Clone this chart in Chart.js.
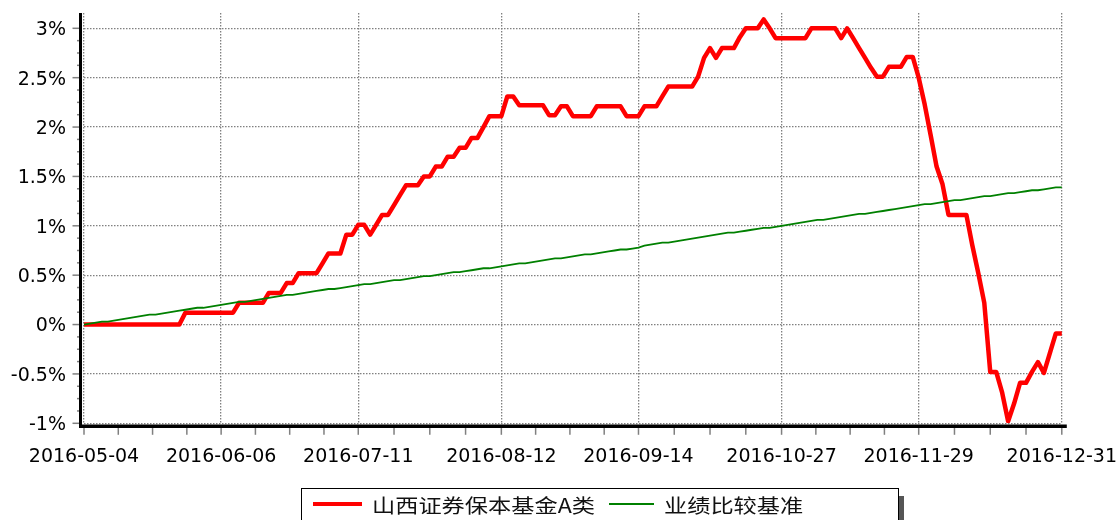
<!DOCTYPE html>
<html>
<head>
<meta charset="utf-8">
<script src="https://cdn.jsdelivr.net/npm/chart.js@4.4.0/dist/chart.umd.min.js"></script>
<style>
html,body{margin:0;padding:0;background:#fff;}
#wrap{position:relative;width:1117px;height:520px;overflow:hidden;background:#fff;}
#chartBox{position:absolute;left:0;top:0;width:1117px;height:520px;}
#legend{position:absolute;left:301px;top:488px;width:596px;height:60px;border:1.5px solid #000;box-shadow:5px 8px 0 #555;background:#fff;}
.sw{position:absolute;}
.lt{position:absolute;font-family:"Noto Sans CJK SC";font-size:19.5px;line-height:22px;color:#111;transform:scaleX(1.19);transform-origin:0 50%;white-space:nowrap;}
</style>
</head>
<body>
<div id="wrap">
  <div id="chartBox"><canvas id="c"></canvas></div>
  <div id="legend">
    <span class="sw" style="left:10.5px;top:12.5px;width:49px;height:4.5px;background:#ff0000;"></span>
    <span class="lt" id="l1" style="left:69.5px;top:4.5px;"></span>
    <span class="sw" style="left:306.5px;top:13.5px;width:45px;height:2px;background:#008000;"></span>
    <span class="lt" id="l2" style="left:361.5px;top:4.5px;"></span>
  </div>
</div>
<script>
// ---- data ----
const seriesNames = ['山西证券保本基金A类', '业绩比较基准'];
const tradeMonths = ['05','06','07','08','09','10','11','12'];
const tradeDays = [
  [4,5,6,9,10,11,12,13,16,17,18,19,20,23,24,25,26,27,30,31],
  [1,2,3,6,7,8,13,14,15,16,17,20,21,22,23,24,27,28,29,30],
  [1,4,5,6,7,8,11,12,13,14,15,18,19,20,21,22,25,26,27,28,29],
  [1,2,3,4,5,8,9,10,11,12,15,16,17,18,19,22,23,24,25,26,29,30,31],
  [1,2,5,6,7,8,9,12,13,14,19,20,21,22,23,26,27,28,29,30],
  [10,11,12,13,14,17,18,19,20,21,24,25,26,27,28,31],
  [1,2,3,4,7,8,9,10,11,14,15,16,17,18,21,22,23,24,25,28,29,30],
  [1,2,5,6,7,8,9,12,13,14,15,16,19,20,21,22,23,26,27,28,29,30,31]
];
const tickLabels = ['2016-05-04','2016-06-06','2016-07-11','2016-08-12','2016-09-14','2016-10-27','2016-11-29','2016-12-31'];
const yTickValues = [-1,-0.5,0,0.5,1,1.5,2,2.5,3];

const fundA = [
  0,0,0,0,0,0,0,0,0,0,0,0,0,0,0,0,0,
  0.12,0.12,0.12,0.12,0.12,0.12,0.12,0.12,0.12,
  0.22,0.22,0.22,0.22,0.22,
  0.32,0.32,0.32,
  0.42,0.42,
  0.52,0.52,0.52,0.52,
  0.62,
  0.72,0.72,0.72,
  0.91,0.91,1.01,1.01,0.91,1.01,1.11,1.11,1.21,1.31,
  1.41,1.41,1.41,
  1.5,1.5,1.6,1.6,1.7,1.7,1.79,1.79,1.89,1.89,
  2.0,
  2.11,2.11,2.11,
  2.31,2.31,
  2.22,2.22,2.22,2.22,2.22,
  2.12,2.12,
  2.21,2.21,
  2.11,2.11,2.11,2.11,
  2.21,2.21,2.21,2.21,2.21,
  2.11,2.11,2.11,
  2.21,2.21,2.21,
  2.31,
  2.41,2.41,2.41,2.41,2.41,
  2.51,2.7,2.8,2.7,
  2.8,2.8,2.8,
  2.91,
  3.0,3.0,3.0,
  3.09,3.0,
  2.9,2.9,2.9,2.9,2.9,2.9,
  3.0,3.0,3.0,3.0,3.0,
  2.9,3.0,2.9,2.8,2.7,2.6,
  2.51,2.51,
  2.61,2.61,2.61,
  2.71,2.71,
  2.5,2.23,1.92,1.6,1.42,
  1.11,1.11,1.11,1.11,
  0.8,0.52,0.22,
  -0.48,-0.48,-0.69,-0.98,-0.8,
  -0.59,-0.59,-0.48,-0.38,-0.49,-0.29,
  -0.09,-0.09
];
const benchmark = [
  0,0.01,0.02,0.03,0.03,0.04,0.05,0.06,0.07,0.08,0.09,0.10,0.10,0.11,0.12,0.13,0.14,0.15,0.16,0.17,0.17,0.18,0.19,0.20,
  0.21,0.22,0.23,0.23,0.24,0.25,0.26,0.27,0.28,0.29,0.30,0.30,0.31,0.32,0.33,0.34,0.35,0.36,0.36,0.37,0.38,0.39,0.40,
  0.41,0.41,0.42,0.43,0.44,0.45,0.45,0.46,0.47,0.48,0.49,0.49,0.50,0.51,0.52,0.53,0.53,0.54,0.55,0.56,0.57,0.57,0.58,0.59,
  0.60,0.61,0.62,0.62,0.63,0.64,0.65,0.66,0.67,0.67,0.68,0.69,0.70,0.71,0.71,0.72,0.73,0.74,0.75,0.76,0.76,0.77,0.78,
  0.80,0.81,0.82,0.83,0.83,0.84,0.85,0.86,0.87,0.88,0.89,0.90,0.91,0.92,0.93,0.93,0.94,0.95,0.96,0.97,0.98,0.98,0.99,1.00,
  1.01,1.02,1.03,1.04,1.05,1.06,1.06,1.07,1.08,1.09,1.10,1.11,1.12,1.12,1.13,1.14,1.15,1.16,1.17,1.18,1.19,1.20,1.21,
  1.22,1.22,1.23,1.24,1.25,1.26,1.26,1.27,1.28,1.29,1.30,1.30,1.31,1.32,1.33,1.33,1.34,1.35,1.36,1.36,1.37,1.38,1.39,1.39
];

// ---- build categories ----
const categories = [];
tradeMonths.forEach((m, k) => tradeDays[k].forEach(d => categories.push('2016-' + m + '-' + String(d).padStart(2, '0'))));
const majorIdx = tickLabels.map(l => categories.indexOf(l));

document.getElementById('l1').textContent = seriesNames[0];
document.getElementById('l2').textContent = seriesNames[1];

const axisDecor = {
  id: 'axisDecor',
  beforeDatasetsDraw(chart) {
    const {ctx, chartArea: a, scales: {x, y}} = chart;
    ctx.save();
    ctx.strokeStyle = '#808080';
    ctx.lineWidth = 1.5;
    const y0 = yTickValues[0], y1 = yTickValues[yTickValues.length - 1];
    const nSub = Math.round((y1 - y0) / 0.125);
    for (let k = 0; k <= nSub; k++) {
      const py = y.getPixelForValue(y0 + k * 0.125);
      ctx.beginPath();
      ctx.moveTo(a.left - 4, py);
      ctx.lineTo(a.left - (k % 4 === 0 ? 11.5 : 7), py);
      ctx.stroke();
    }
    for (let k = 0; k < majorIdx.length; k++) {
      const p0 = x.getPixelForValue(majorIdx[k]);
      const subs = k < majorIdx.length - 1 ? 4 : 1;
      const p1 = k < majorIdx.length - 1 ? x.getPixelForValue(majorIdx[k + 1]) : p0;
      for (let j = 0; j < subs; j++) {
        const px = p0 + (p1 - p0) * j / 4;
        ctx.beginPath();
        ctx.moveTo(px, a.bottom + 4);
        ctx.lineTo(px, a.bottom + 11.5);
        ctx.stroke();
      }
    }
    ctx.strokeStyle = '#000';
    ctx.lineWidth = 3;
    ctx.beginPath();
    ctx.moveTo(a.left - 3.5, a.top);
    ctx.lineTo(a.left - 3.5, a.bottom + 4.6);
    ctx.stroke();
    ctx.lineWidth = 3.5;
    ctx.beginPath();
    ctx.moveTo(a.left - 5, a.bottom + 2.9);
    ctx.lineTo(a.right + 5, a.bottom + 2.9);
    ctx.stroke();
    ctx.restore();
  }
};

Chart.defaults.font.family = 'DejaVu Sans';
Chart.defaults.font.size = 19;
Chart.defaults.color = '#000';

new Chart(document.getElementById('c'), {
  type: 'line',
  data: {
    labels: categories,
    datasets: [
      {label: seriesNames[0], data: fundA, borderColor: '#ff0000', backgroundColor: '#ff0000',
       borderWidth: 4.5, pointRadius: 0, tension: 0, borderJoinStyle: 'round', borderCapStyle: 'butt', order: 1},
      {label: seriesNames[1], data: benchmark, borderColor: '#008000', backgroundColor: '#008000',
       borderWidth: 1.8, pointRadius: 0, tension: 0, order: 0}
    ]
  },
  options: {
    responsive: true,
    maintainAspectRatio: false,
    animation: false,
    devicePixelRatio: 1,
    layout: {padding: {left: 0, right: 54, top: 13, bottom: 0}},
    plugins: {legend: {display: false}, tooltip: {enabled: false}},
    scales: {
      x: {
        type: 'category',
        offset: false,
        afterBuildTicks: s => { s.ticks = majorIdx.map(v => ({value: v})); },
        afterFit: s => { s.height = 96.7; },
        ticks: {autoSkip: false, maxRotation: 0, minRotation: 0, padding: 0,
                callback: (v, i) => tickLabels[i]},
        grid: {color: '#808080', lineWidth: 1.3, drawTicks: true, tickLength: 22, tickColor: 'rgba(0,0,0,0)'},
        border: {display: false, dash: [1.5, 1.5]}
      },
      y: {
        type: 'linear',
        min: -1,
        max: 3.155,
        bounds: 'data',
        afterBuildTicks: s => { s.ticks = yTickValues.map(v => ({value: v})); },
        afterFit: s => { s.width = 84; },
        ticks: {padding: 0, labelOffset: 2, callback: v => v + '%'},
        grid: {color: '#808080', lineWidth: 1.3, drawTicks: true, tickLength: 18, tickColor: 'rgba(0,0,0,0)'},
        border: {display: false, dash: [1.5, 1.5]}
      }
    }
  },
  plugins: [axisDecor]
});
</script>
</body>
</html>
